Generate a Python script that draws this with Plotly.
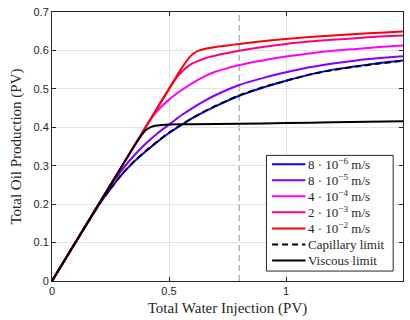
import plotly.graph_objects as go

# Injection rates and curve styles
rate_labels = [
    "8 · 10<sup>−6</sup> m/s",
    "8 · 10<sup>−5</sup> m/s",
    "4 · 10<sup>−4</sup> m/s",
    "2 · 10<sup>−3</sup> m/s",
    "4 · 10<sup>−2</sup> m/s",
]
rate_colors = ["#0000ff", "#8000ff", "#ff00ff", "#ff0080", "#ff0000"]

# Oil production curves (PV) against water injected (PV)
x_slow = [0, 0.1, 0.2, 0.25, 0.3, 0.35, 0.4, 0.45, 0.5, 0.55, 0.6, 0.65, 0.7,
          0.8, 0.9, 1.0, 1.1, 1.2, 1.3, 1.4, 1.5]
y_8e6 = [0, 0.1, 0.198, 0.24, 0.278, 0.31, 0.337, 0.362, 0.385, 0.405, 0.424,
         0.44, 0.455, 0.482, 0.503, 0.521, 0.537, 0.55, 0.559, 0.567, 0.574]
y_8e5 = [0, 0.1, 0.2, 0.248, 0.29, 0.326, 0.357, 0.384, 0.407, 0.43, 0.45,
         0.468, 0.484, 0.51, 0.528, 0.543, 0.556, 0.566, 0.574, 0.58, 0.585]

x_4e4 = [0, 0.1, 0.2, 0.3, 0.4, 0.43, 0.45, 0.5, 0.55, 0.6, 0.65, 0.7, 0.75,
         0.8, 0.9, 1.0, 1.1, 1.2, 1.3, 1.4, 1.5]
y_4e4 = [0, 0.1, 0.2, 0.3, 0.4, 0.428, 0.443, 0.472, 0.495, 0.515, 0.532,
         0.545, 0.554, 0.562, 0.574, 0.584, 0.592, 0.599, 0.604, 0.609, 0.613]

x_2e3 = [0, 0.1, 0.2, 0.3, 0.4, 0.5, 0.52, 0.54, 0.56, 0.58, 0.6, 0.63, 0.66,
         0.7, 0.8, 0.9, 1.0, 1.1, 1.2, 1.3, 1.4, 1.5]
y_2e3 = [0, 0.1, 0.2, 0.3, 0.4, 0.5, 0.519, 0.535, 0.548, 0.558, 0.566, 0.574,
         0.581, 0.587, 0.599, 0.609, 0.617, 0.623, 0.628, 0.632, 0.636, 0.639]

x_4e2 = [0, 0.1, 0.2, 0.3, 0.4, 0.5, 0.55, 0.57, 0.59, 0.61, 0.63, 0.66, 0.7,
         0.75, 0.8, 0.9, 1.0, 1.1, 1.2, 1.3, 1.4, 1.5]
y_4e2 = [0, 0.1, 0.2, 0.3, 0.4, 0.5, 0.55, 0.568, 0.584, 0.594, 0.6, 0.605,
         0.609, 0.613, 0.617, 0.624, 0.63, 0.635, 0.639, 0.643, 0.646, 0.649]

# Limiting cases
y_capillary = [0, 0.1, 0.198, 0.24, 0.279, 0.311, 0.338, 0.363, 0.386, 0.406,
               0.424, 0.441, 0.456, 0.483, 0.504, 0.521, 0.537, 0.549, 0.558,
               0.566, 0.573]
x_viscous = [0, 0.1, 0.2, 0.3, 0.35, 0.38, 0.4, 0.42, 0.44, 0.47, 0.5, 0.6,
             0.8, 1.0, 1.2, 1.5]
y_viscous = [0, 0.1, 0.2, 0.3, 0.35, 0.377, 0.392, 0.4, 0.404, 0.406, 0.407,
             0.408, 0.409, 0.411, 0.413, 0.416]

breakthrough_pv = 0.8

serif = "Liberation Serif"
sans = "Liberation Sans"
ink = "#262626"
line_w = 2
dash_pat = "6px,4px"

fig = go.Figure()

entries = []  # (name, color, dash) in legend order
series = [
    (x_slow, y_8e6),
    (x_slow, y_8e5),
    (x_4e4, y_4e4),
    (x_2e3, y_2e3),
    (x_4e2, y_4e2),
]
for (xs, ys), name, color in zip(series, rate_labels, rate_colors):
    fig.add_trace(go.Scatter(
        x=xs, y=ys, mode="lines", name=name,
        line=dict(color=color, width=line_w, shape="spline", smoothing=0.6),
    ))
    entries.append((name, color, "solid"))

fig.add_trace(go.Scatter(
    x=x_slow, y=y_capillary, mode="lines", name="Capillary limit",
    line=dict(color="black", width=line_w, dash=dash_pat, shape="spline", smoothing=0.6),
))
entries.append(("Capillary limit", "black", dash_pat))
fig.add_trace(go.Scatter(
    x=x_viscous, y=y_viscous, mode="lines", name="Viscous limit",
    line=dict(color="black", width=line_w, shape="spline", smoothing=0.6),
))
entries.append(("Viscous limit", "black", "solid"))

# Breakthrough marker
fig.add_shape(
    type="line", xref="x", yref="paper",
    x0=breakthrough_pv, x1=breakthrough_pv, y0=0, y1=1,
    line=dict(color="#a8a8a8", width=1.3, dash="6px,4px"),
    layer="below",
)

# Compact boxed legend in the lower right of the axes (paper coordinates)
box_left, box_right, box_top, box_bottom = 0.611, 0.972, 0.467, 0.037
row_first, row_step = 0.434, 0.0596
sample_x0, sample_x1, text_x = 0.627, 0.722, 0.724

fig.add_shape(
    type="rect", xref="paper", yref="paper",
    x0=box_left, x1=box_right, y0=box_bottom, y1=box_top,
    line=dict(color=ink, width=1), fillcolor="white", layer="above",
)
for i, (name, color, dash) in enumerate(entries):
    yy = row_first - i * row_step
    fig.add_shape(
        type="line", xref="paper", yref="paper",
        x0=sample_x0, x1=sample_x1, y0=yy, y1=yy,
        line=dict(color=color, width=line_w, dash=dash), layer="above",
    )
    fig.add_annotation(
        xref="paper", yref="paper", x=text_x, y=yy,
        text=name, showarrow=False, xanchor="left", yanchor="middle",
        font=dict(family=serif, size=13, color=ink),
    )

axis_common = dict(
    showline=True, linecolor=ink, linewidth=1,
    mirror="ticks", ticks="inside", ticklen=4, tickwidth=1, tickcolor=ink,
    showgrid=True, gridcolor="#e3e3e3", gridwidth=1,
    zeroline=False,
    tickfont=dict(family=sans, size=11, color=ink),
)

fig.update_xaxes(
    range=[0, 1.5], tickvals=[0, 0.5, 1, 1.5], ticktext=["0", "0.5", "1", "1.5"],
    title=dict(text="Total Water Injection (PV)", font=dict(family=serif, size=15, color=ink),
               standoff=6),
    **axis_common,
)
fig.update_yaxes(
    range=[0, 0.7], dtick=0.1,
    title=dict(text="Total Oil Production (PV)", font=dict(family=serif, size=15, color=ink),
               standoff=8),
    **axis_common,
)

fig.update_layout(
    width=410, height=320,
    margin=dict(l=52, r=6, t=10, b=38),
    paper_bgcolor="white", plot_bgcolor="white",
    showlegend=False,
)

fig.write_html("out.html")
